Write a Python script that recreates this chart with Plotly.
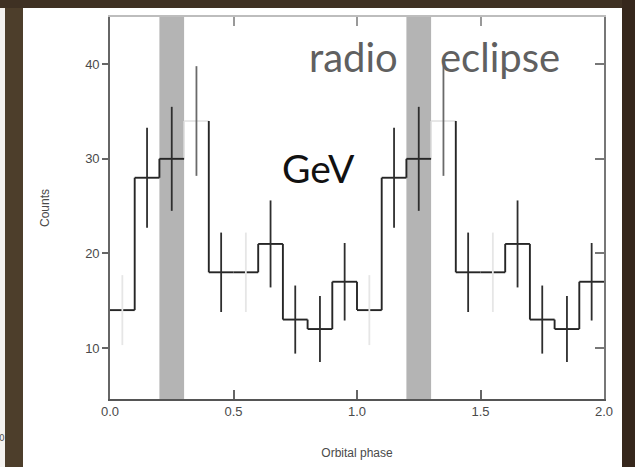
import plotly.graph_objects as go

# ---- data ----
bin_lo = [0.0, 0.1, 0.2, 0.3, 0.4, 0.5, 0.6, 0.7, 0.8, 0.9,
          1.0, 1.1, 1.2, 1.3, 1.4, 1.5, 1.6, 1.7, 1.8, 1.9]
bin_width = 0.1
counts = [14, 28, 30, 34, 18, 18, 21, 13, 12, 17,
          14, 28, 30, 34, 18, 18, 21, 13, 12, 17]
errors = [3.7, 5.3, 5.5, 5.8, 4.2, 4.2, 4.6, 3.6, 3.5, 4.1,
          3.7, 5.3, 5.5, 5.8, 4.2, 4.2, 4.6, 3.6, 3.5, 4.1]
# 2 = dark, 1 = medium, 0 = faint (as rendered in the picture)
err_tone = [0, 2, 2, 1, 2, 0, 2, 2, 2, 2,
            0, 2, 2, 1, 2, 0, 2, 2, 2, 2]
faint_bins = [3, 13]
eclipse_start = [0.2, 1.2]
eclipse_end = [0.3, 1.3]
x_ticks = [0.0, 0.5, 1.0, 1.5, 2.0]
x_ticktext = ["0.0", "0.5", "1.0", "1.5", "2.0"]
y_ticks = [10, 20, 30, 40]

# ---- figure geometry ----
W, H = 635, 467
ML, MR, MT, MB = 110, 31, 17, 68
pw, ph = W - ML - MR, H - MT - MB


def px_x(p):
    return (p - ML) / pw


def px_y(p):
    return (H - MB - p) / ph


fig = go.Figure()

# step line built from the bins
dark_x, dark_y, faint_x, faint_y = [], [], [], []
n = len(counts)
for i in range(n):
    lo, hi = bin_lo[i], bin_lo[i] + bin_width
    tx, ty = (faint_x, faint_y) if i in faint_bins else (dark_x, dark_y)
    tx += [lo, hi, None]
    ty += [counts[i], counts[i], None]
    if i + 1 < n:
        tx2, ty2 = (faint_x, faint_y) if (i + 1) in faint_bins else (dark_x, dark_y)
        tx2 += [hi, hi, None]
        ty2 += [counts[i], counts[i + 1], None]

fig.add_trace(go.Scatter(x=faint_x, y=faint_y, mode="lines",
                         line=dict(color="#e0e0e0", width=1.5),
                         hoverinfo="skip", showlegend=False))
fig.add_trace(go.Scatter(x=dark_x, y=dark_y, mode="lines",
                         line=dict(color="#262626", width=1.9),
                         hoverinfo="skip", showlegend=False))

# error bars
tone_col = {0: "#e6e6e6", 1: "#6a6a6a", 2: "#2e2e2e"}
for tone in [0, 1, 2]:
    idx = [i for i in range(n) if err_tone[i] == tone]
    fig.add_trace(go.Scatter(
        x=[bin_lo[i] + bin_width / 2 for i in idx],
        y=[counts[i] for i in idx],
        mode="markers",
        marker=dict(size=1, color="rgba(0,0,0,0)"),
        error_y=dict(type="data", array=[errors[i] for i in idx],
                     width=0, thickness=1.8, color=tone_col[tone]),
        hoverinfo="skip", showlegend=False))

# dummy trace to realise the mirror axes
fig.add_trace(go.Scatter(x=[1], y=[20], xaxis="x2", yaxis="y2", mode="markers",
                         marker=dict(size=1, color="rgba(0,0,0,0)"),
                         hoverinfo="skip", showlegend=False))

shapes = []
# background frame pieces
shapes.append(dict(type="rect", xref="paper", yref="paper",
                   x0=px_x(23), x1=px_x(622), y0=px_y(467), y1=px_y(8),
                   fillcolor="white", line=dict(width=0), layer="below"))
shapes.append(dict(type="rect", xref="paper", yref="paper",
                   x0=px_x(0), x1=px_x(5), y0=px_y(467), y1=px_y(8),
                   fillcolor="#f4f2ef", line=dict(width=0), layer="below"))
shapes.append(dict(type="rect", xref="paper", yref="paper",
                   x0=px_x(5), x1=px_x(23), y0=px_y(467), y1=px_y(8),
                   fillcolor="#4d3e2b", line=dict(width=0), layer="below"))
shapes.append(dict(type="rect", xref="paper", yref="paper",
                   x0=px_x(622), x1=px_x(635), y0=px_y(467), y1=px_y(0),
                   fillcolor="#36271c", line=dict(width=0), layer="below"))
# eclipse bands
for s, e in zip(eclipse_start, eclipse_end):
    shapes.append(dict(type="rect", xref="x", yref="paper", x0=s, x1=e,
                       y0=0, y1=1, fillcolor="#b4b4b4",
                       line=dict(width=0), layer="below"))

annotations = [
    dict(text="radio", xref="paper", yref="paper", x=px_x(353), y=px_y(57),
         showarrow=False,
         font=dict(family="Lato", size=40, color="#606060"),
         xanchor="center", yanchor="middle"),
    dict(text="eclipse", xref="paper", yref="paper", x=px_x(500), y=px_y(57),
         showarrow=False,
         font=dict(family="Lato", size=40, color="#606060"),
         xanchor="center", yanchor="middle"),
    dict(text="GeV", xref="paper", yref="paper", x=px_x(318), y=px_y(168),
         showarrow=False,
         font=dict(family="Lato", size=39, color="#111111"),
         xanchor="center", yanchor="middle"),
    dict(text="0", xref="paper", yref="paper", x=px_x(2), y=px_y(438),
         showarrow=False, font=dict(family="DejaVu Sans", size=9, color="#555555"),
         xanchor="center", yanchor="middle"),
]

tickfont = dict(family="Liberation Sans", size=13, color="#4a4a4a")

fig.update_layout(
    width=W, height=H,
    margin=dict(l=ML, r=MR, t=MT, b=MB, autoexpand=False),
    paper_bgcolor="#3f3123",
    plot_bgcolor="white",
    showlegend=False,
    shapes=shapes,
    annotations=annotations,
    xaxis=dict(range=[0, 2], tickvals=x_ticks, ticktext=x_ticktext,
               ticks="inside", ticklen=9, tickwidth=1.5, tickcolor="#666",
               showline=True, linecolor="#555", linewidth=1.6,
               showgrid=False, zeroline=False, tickfont=tickfont,
               automargin=False,
               title=dict(text="Orbital phase", standoff=30,
                          font=dict(family="Liberation Sans", size=12, color="#4a4a4a"))),
    yaxis=dict(range=[4.6, 45], tickvals=y_ticks,
               ticks="outside", ticklen=6, tickwidth=1.5, tickcolor="#666",
               showline=True, linecolor="#666", linewidth=1.6,
               showgrid=False, zeroline=False, tickfont=tickfont,
               automargin=False,
               title=dict(text="Counts", standoff=33,
                          font=dict(family="Liberation Sans", size=12, color="#4a4a4a"))),
    xaxis2=dict(overlaying="x", side="top", range=[0, 2], tickvals=x_ticks,
                ticks="inside", ticklen=9, tickwidth=1.5, tickcolor="#999",
                showticklabels=False, showline=True, linecolor="#bdbdbd",
                linewidth=1.6, showgrid=False, zeroline=False, automargin=False),
    yaxis2=dict(overlaying="y", side="right", range=[4.6, 45], tickvals=y_ticks,
                ticks="inside", ticklen=9, tickwidth=1.5, tickcolor="#777",
                showticklabels=False, showline=True, linecolor="#777",
                linewidth=1.6, showgrid=False, zeroline=False, automargin=False),
)

fig.write_html("out.html")
